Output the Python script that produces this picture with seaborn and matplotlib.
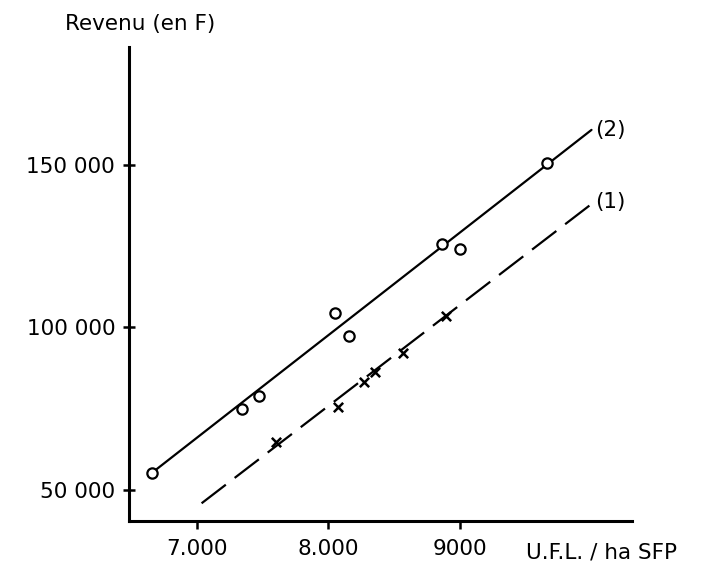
import matplotlib
matplotlib.use("Agg")
import matplotlib.pyplot as plt
import seaborn as sns
import pandas as pd

# Series (2): circles
ufl_2 = [6658, 7345, 7474, 8049, 8158, 8867, 9004, 9660]
rev_2 = [55300, 74900, 79000, 104400, 97400, 125700, 124200, 150500]
# Series (1): crosses
ufl_1 = [7598, 8075, 8273, 8354, 8569, 8898]
rev_1 = [64700, 75600, 83300, 86400, 92200, 103500]
# Fitted lines (end points)
line2_x = [6658, 10002]
line2_y = [55300, 160800]
line1_x = [7035, 10002]
line1_y = [45900, 138000]

x_ticks = [7000, 8000, 9000]
x_tick_labels = ["7.000", "8.000", "9000"]
y_ticks = [50000, 100000, 150000]
y_tick_labels = ["50 000", "100 000", "150 000"]

sns.set_theme(style="white")
plt.rcParams['font.family'] = ['DejaVu Sans']
plt.rcParams['lines.scale_dashes'] = False

fig = plt.figure(figsize=(7.09, 5.72), dpi=100)
ax = fig.add_axes([0.182, 0.0892, 0.709, 0.8286])

df2 = pd.DataFrame({"x": line2_x, "y": line2_y})
df1 = pd.DataFrame({"x": line1_x, "y": line1_y})
sns.lineplot(data=df2, x="x", y="y", ax=ax, color="black", lw=1.6, zorder=2)
sns.lineplot(data=df1, x="x", y="y", ax=ax, color="black", lw=1.6, zorder=2)
ax.lines[-1].set_dashes((22, 8))

sns.scatterplot(x=ufl_2, y=rev_2, ax=ax, marker="o", s=55, facecolor="white",
                edgecolor="black", linewidth=1.6, zorder=3)
sns.scatterplot(x=ufl_1, y=rev_1, ax=ax, marker="x", s=45, color="black",
                linewidth=1.8, zorder=3)

fs = 15.5
ax.set_xlim(6483, 10308)
ax.set_ylim(40460, 186300)
ax.set_xticks(x_ticks)
ax.set_xticklabels(x_tick_labels, fontsize=fs)
ax.set_yticks(y_ticks)
ax.set_yticklabels(y_tick_labels, fontsize=fs)
ax.tick_params(axis="x", direction="out", length=6, width=1.8, color="black",
               pad=7, bottom=True)
ax.tick_params(axis="y", direction="inout", length=8, width=1.8, color="black",
               pad=6, left=True)
for t in ax.get_xticklabels() + ax.get_yticklabels():
    t.set_color("black")

for s in ["top", "right"]:
    ax.spines[s].set_visible(False)
for s in ["left", "bottom"]:
    ax.spines[s].set_color("black")
    ax.spines[s].set_linewidth(2.2)

ax.set_xlabel("")
ax.set_ylabel("")

fig.text(140 / 709, 1 - 24 / 572, "Revenu (en F)", ha="center", va="center",
         fontsize=fs, color="black")
fig.text(602 / 709, 1 - 553 / 572, "U.F.L. / ha SFP", ha="center", va="center",
         fontsize=fs, color="black")
ax.text(10030, 160800, "(2)", ha="left", va="center", fontsize=fs, color="black")
ax.text(10030, 138500, "(1)", ha="left", va="center", fontsize=fs, color="black")

fig.savefig("out.png", dpi=100, facecolor="white")
